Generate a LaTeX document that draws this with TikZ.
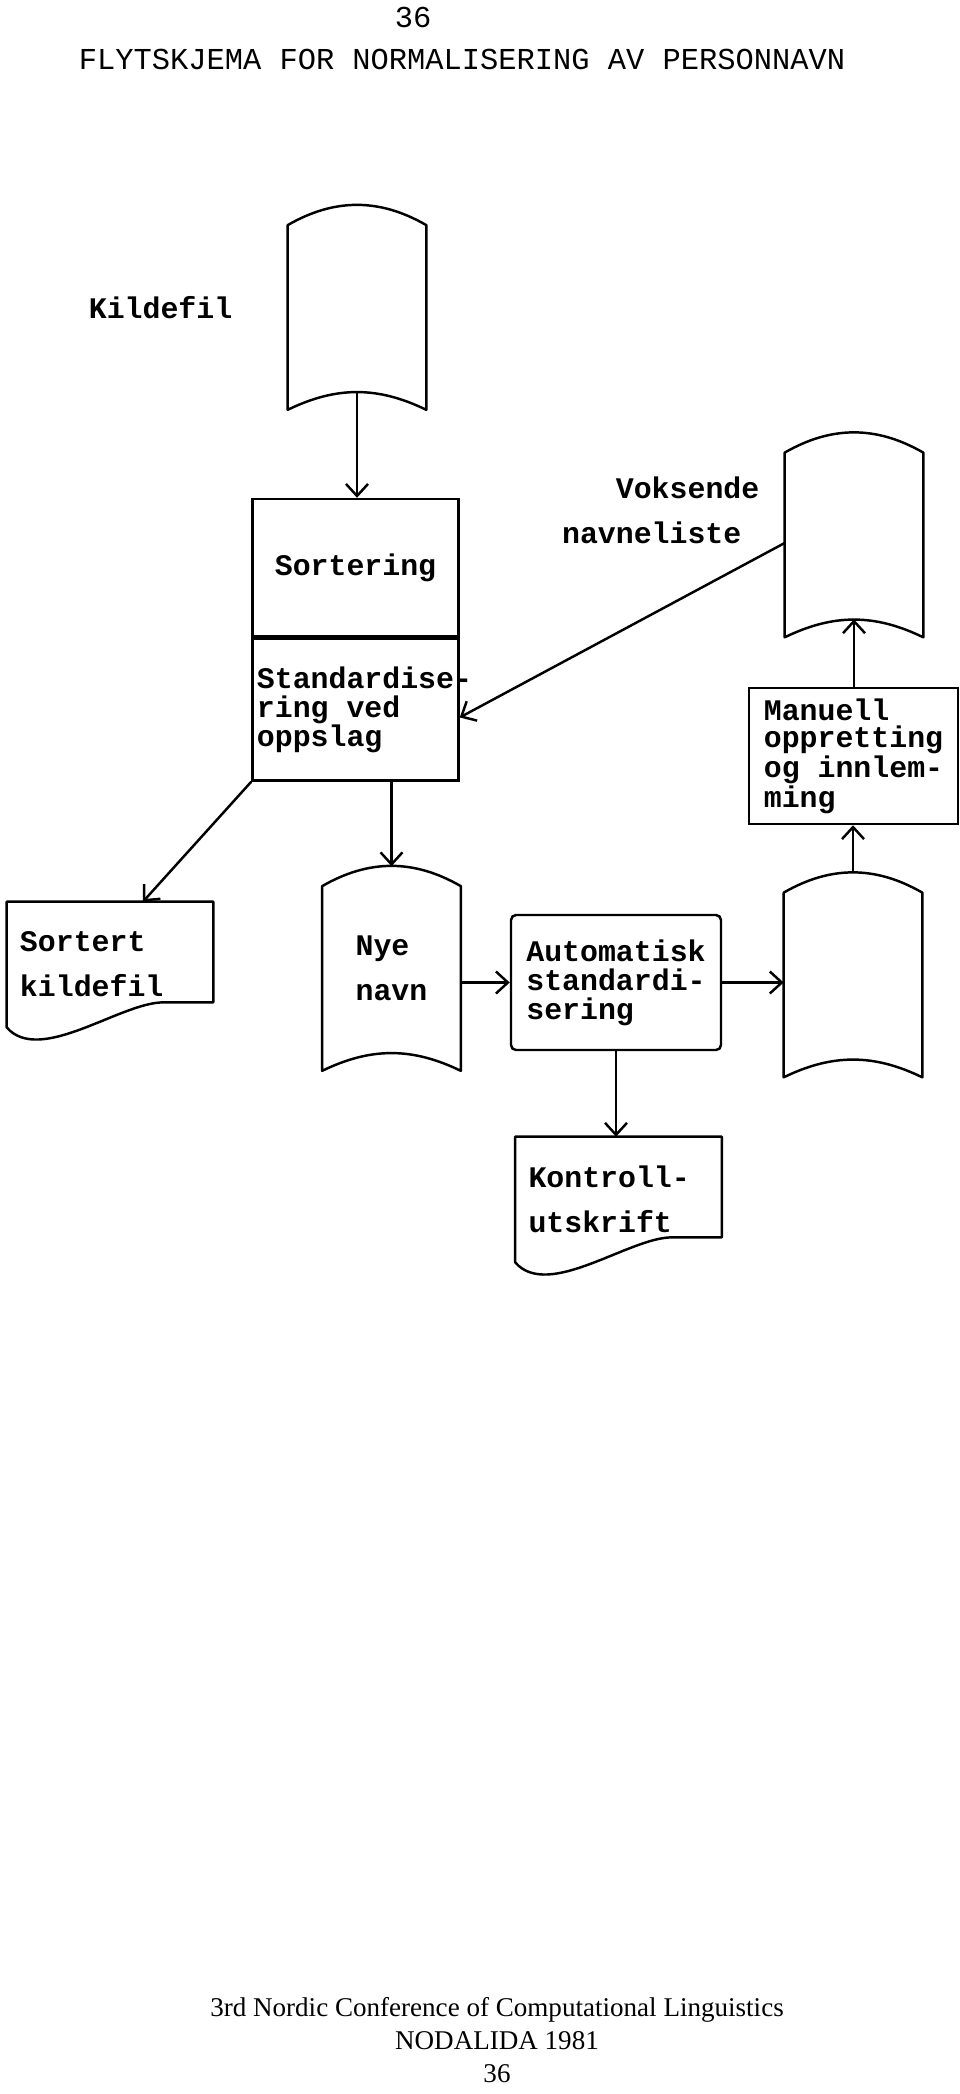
\documentclass[tikz,border=0pt]{standalone}
\usepackage{fontspec}
\setmainfont{Liberation Serif}
\setmonofont{Liberation Mono}
\usetikzlibrary{calc, positioning, arrows.meta}

% tape file: the node runs from the top of the upper arc to the lower corners
\newcommand{\tapeOutline}[1]{%
	\draw[fileLine] ($(#1.north west)+(0,-20)$) to[bend left=30] ($(#1.north east)+(0,-20)$)
		-- (#1.south east) to[bend right=26] (#1.south west) -- cycle;
	\coordinate (#1-bot) at ($(#1.south)+(0,18)$);
}
% printed document: flat top, wavy lower edge
\newcommand{\docOutline}[1]{%
	\draw[fileLine] (#1.north west) -- (#1.north east) -- ($(#1.south east)+(0,25)$)
		-- ++(-50,0) .. controls +(-43,0) and +(33,-38) .. (#1.south west) -- cycle;
}

\begin{document}
\begin{tikzpicture}[
			x=0.2mm, y=0.2mm,
			font=\ttfamily\bfseries\fontsize{17pt}{16.5pt}\selectfont,
			% Node styles
			procBox/.style={draw=black, line width=1.4pt, inner sep=0pt, align=left},
			tapeFile/.style={minimum width=27.6mm, minimum height=40.8mm, inner sep=0pt, align=left, font=\ttfamily\bfseries\fontsize{17pt}{25.6pt}\selectfont},
			docFile/.style={minimum height=25mm, text width=36mm, inner xsep=2.6mm, inner ysep=0pt, align=left, font=\ttfamily\bfseries\fontsize{17pt}{25.6pt}\selectfont},
			sideLabel/.style={inner sep=0pt, align=left, font=\ttfamily\bfseries\fontsize{17pt}{25.6pt}\selectfont},
			% Line styles
			fileLine/.style={line width=1.4pt, line join=round},
			flowArrow/.style={line width=1.4pt, -{Straight Barb[length=2.4mm, width=4.4mm]}}
			]
			
			\useasboundingbox (0,0) rectangle (960,-2094);
			
			% =========================================================
			% 1. HEADING
			% =========================================================
			
			\node[font=\ttfamily\fontsize{17.3pt}{20pt}\selectfont] (pageTop) at (413,-17) {36};
			\node[font=\ttfamily\fontsize{17.3pt}{20pt}\selectfont] (title) at (462,-59) {FLYTSKJEMA FOR NORMALISERING AV PERSONNAVN};
			
			% =========================================================
			% 2. FILES AND PROCESSES
			% =========================================================
			
			% Source file and sorting
			\node[tapeFile] (kildefil) at (357,-307.5) {};
			\tapeOutline{kildefil}
			\node[sideLabel, left=11mm of kildefil] (kildefilLabel) {Kildefil};
			
			\node[procBox, minimum width=41.2mm, minimum height=27.4mm] (sortering) at (355.5,-567.5) {Sortering};
			\node[procBox, minimum width=41.2mm, minimum height=28.4mm, below=0pt of sortering] (standard) {Standardise\rlap{-}\\ring ved\\oppslag};
			
			% Growing name list
			\node[tapeFile] (voksende) at (854,-535) {};
			\tapeOutline{voksende}
			\node[sideLabel, left=5mm of voksende, yshift=5mm] (voksendeLabel) {\phantom{nav}Voksende\\navneliste};
			
			\node[procBox, minimum width=41.8mm, minimum height=27.2mm, font=\ttfamily\bfseries\fontsize{17pt}{15.6pt}\selectfont] (manuell) at (853.5,-756) {Manuell\\oppretting\\og innlem-\\ming};
			
			% Lower row
			\node[docFile] (sortert) at (110,-964.5) {Sortert\\kildefil};
			\docOutline{sortert}
			
			\node[tapeFile] (nyenavn) at (391.5,-968.5) {Nye\\navn};
			\tapeOutline{nyenavn}
			
			\node[procBox, rounded corners=1mm, minimum width=42mm, minimum height=27mm] (automatisk) at (616,-982.5) {Automatisk\\standardi-\\sering};
			
			\node[tapeFile] (mellomfil) at (853,-975) {};
			\tapeOutline{mellomfil}
			
			\node[docFile] (kontroll) at (618.5,-1199.5) {Kontroll-\\utskrift};
			\docOutline{kontroll}
			
			% Flow
			\draw[flowArrow] (kildefil-bot) -- (kildefil-bot |- sortering.north);
			\draw[flowArrow] ([yshift=-1.6mm]voksende.west) -- ([yshift=-1.6mm]standard.east);
			\draw[flowArrow] (standard.south west) -- ([xshift=6.6mm]sortert.north);
			\draw[flowArrow] (standard.south -| nyenavn.north) -- (nyenavn.north);
			\draw[flowArrow] (automatisk.west -| nyenavn.east) -- (automatisk.west);
			\draw[flowArrow] (automatisk.east) -- (automatisk.east -| mellomfil.west);
			\draw[flowArrow] (automatisk.south) -- (automatisk.south |- kontroll.north);
			\draw[flowArrow] (mellomfil.north) -- (mellomfil.north |- manuell.south);
			\draw[flowArrow] (manuell.north) -- (manuell.north -| voksende-bot) -- (voksende-bot);
			
			% =========================================================
			% 3. FOOTER
			% =========================================================
			
			\node[font=\rmfamily\fontsize{15.4pt}{18.8pt}\selectfont, align=center] (footer) at (497,-2040) {3rd Nordic Conference of Computational Linguistics\\NODALIDA 1981\\36};
			
		\end{tikzpicture}
\end{document}
